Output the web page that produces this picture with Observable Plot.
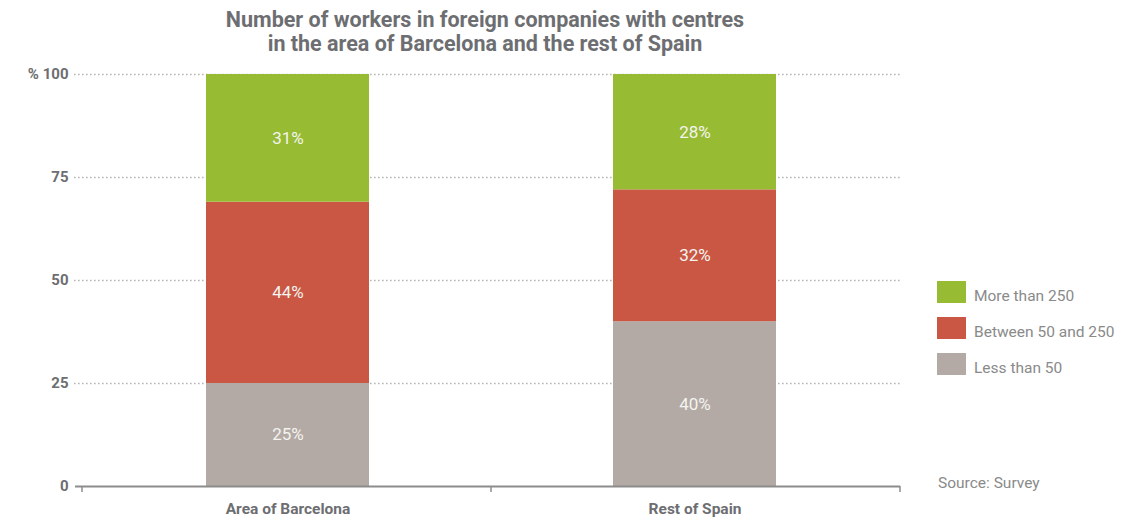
<!DOCTYPE html>
<html>
<head>
<meta charset="utf-8">
<script src="https://cdn.jsdelivr.net/npm/d3@7"></script>
<script src="https://cdn.jsdelivr.net/npm/@observablehq/plot@0.6"></script>
<style>
  html, body { margin: 0; padding: 0; background: #fff; }
  body { font-family: Roboto, "Noto Sans", sans-serif; }
  #wrap { position: relative; width: 1139px; height: 520px; overflow: hidden; }
  #title { position: absolute; left: 0; width: 970px; top: 8px; text-align: center;
    font-weight: 700; font-size: 21.5px; line-height: 24px; color: #6d6e71; }
  #chart { position: absolute; left: 0; top: 60px; }
  .legend { position: absolute; left: 937px; font-size: 15.5px; color: #8a8a8a; }
  .legend .row { position: absolute; left: 0; height: 22px; white-space: nowrap; }
  .legend .sw { position: absolute; left: 0; top: 0; width: 29px; height: 22px; }
  .legend .lab { position: absolute; left: 37px; top: 6px; }
  #source { position: absolute; left: 938px; top: 474px; font-size: 15.5px; color: #8a8a8a; }
</style>
</head>
<body>
<div id="wrap">
  <div id="title">Number of workers in foreign companies with centres<br>in the area of Barcelona and the rest of Spain</div>
  <div id="chart"></div>
  <div class="legend" id="legend"></div>
  <div id="source">Source: Survey</div>
</div>
<script>
const regions = ["Area of Barcelona", "Rest of Spain"];
const sizes = ["Less than 50", "Between 50 and 250", "More than 250"];
const lessThan50 = [25, 40];
const between50and250 = [44, 32];
const moreThan250 = [31, 28];
const colors = ["#b3a9a5", "#c95744", "#97bb33"];
const yTicks = [0, 25, 50, 75, 100];

const series = [lessThan50, between50and250, moreThan250];
const data = [];
regions.forEach((r, i) => sizes.forEach((s, j) => data.push({region: r, size: s, value: series[j][i]})));

const grey = "#6d6e71";

const separators = (index, scales, values, dimensions) => {
  const ns = "http://www.w3.org/2000/svg";
  const g = document.createElementNS(ns, "g");
  const bw = scales.x.bandwidth ? scales.x.bandwidth() : (scales.scales && scales.scales.x.bandwidth) || 0;
  const c = regions.map(r => scales.x(r) + bw / 2);
  const y0 = scales.y(0);
  const xs = [dimensions.marginLeft, (c[0] + c[1]) / 2, dimensions.width - dimensions.marginRight];
  const line = document.createElementNS(ns, "line");
  line.setAttribute("x1", dimensions.marginLeft - 7);
  line.setAttribute("x2", dimensions.width - dimensions.marginRight);
  line.setAttribute("y1", y0 + 0.5); line.setAttribute("y2", y0 + 0.5);
  line.setAttribute("stroke", "#8c8c8c"); line.setAttribute("stroke-width", 2);
  g.appendChild(line);
  xs.forEach(x => {
    const t = document.createElementNS(ns, "line");
    t.setAttribute("x1", x); t.setAttribute("x2", x);
    t.setAttribute("y1", y0); t.setAttribute("y2", y0 + 6);
    t.setAttribute("stroke", "#8c8c8c"); t.setAttribute("stroke-width", 1.5);
    g.appendChild(t);
  });
  return g;
};

const chart = Plot.plot({
  width: 1139,
  height: 460,
  marginTop: 14,
  marginBottom: 34,
  marginLeft: 82,
  marginRight: 239,
  style: {fontFamily: "Roboto, 'Noto Sans', sans-serif", background: "#fff"},
  x: {domain: regions, paddingInner: 0.6, paddingOuter: 0.304, axis: null, label: null},
  y: {domain: [0, 100], axis: null, label: null},
  color: {domain: sizes, range: colors},
  marks: [
    Plot.ruleY(yTicks.filter(d => d > 0), {stroke: "#b5b5b5", strokeWidth: 1.6, strokeDasharray: "1.6,2.4", insetLeft: -8}),
    Plot.barY(data, {x: "region", y: "value", fill: "size", order: sizes}),
    Plot.text(data, Plot.stackY({x: "region", y: "value", z: "size", order: sizes,
      text: d => d.value + "%", fill: "#f4f4ef", fontSize: 17})),
    separators,
    Plot.axisY({ticks: yTicks, tickSize: 0, tickPadding: 14, label: null,
      tickFormat: d => d === 100 ? "% 100" : String(d),
      fontSize: 15, fontWeight: 700, fill: grey}),
    Plot.axisX({tickSize: 0, tickPadding: 16, label: null, fontSize: 15.5, fontWeight: 700, fill: grey})
  ]
});
document.getElementById("chart").appendChild(chart);

const legend = document.getElementById("legend");
const legendOrder = [2, 1, 0];
legendOrder.forEach((j, k) => {
  const row = document.createElement("div");
  row.className = "row";
  row.style.top = (281 + k * 36) + "px";
  const sw = document.createElement("div");
  sw.className = "sw"; sw.style.background = colors[j];
  const lab = document.createElement("div");
  lab.className = "lab"; lab.textContent = sizes[j];
  row.appendChild(sw); row.appendChild(lab);
  legend.appendChild(row);
});
</script>
</body>
</html>
